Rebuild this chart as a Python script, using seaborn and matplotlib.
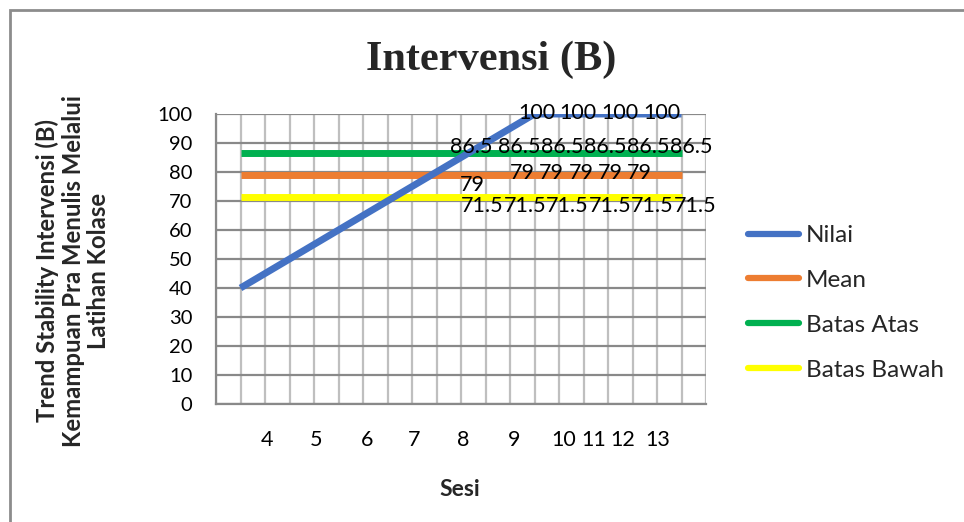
import matplotlib
matplotlib.use("Agg")
import matplotlib.pyplot as plt
from matplotlib.lines import Line2D
import seaborn as sns
import pandas as pd

# ---- data ----
sesi = ["4", "5", "6", "7", "8", "9", "10", "11", "12", "13"]

# Nilai trend: start, point where it reaches the ceiling, end
nilai_idx = [1, 13, 19]
nilai = [40, 100, 100]

# Stability band: mean with upper and lower limits, spanning the same range
band_idx = [1, 19]
mean = [79, 79]
batas_atas = [86.5, 86.5]
batas_bawah = [71.5, 71.5]

# ---- layout ----
sesi_pos = [2.1, 4.1, 6.15, 8.1, 10.1, 12.15, 14.2, 15.4, 16.6, 18.05]
label_x = {
    "Nilai": [13.1, 14.78, 16.49, 18.2],
    "Batas Atas": [10.41, 12.39, 14.14, 15.9, 17.65, 19.41],
    "Mean": [10.45, 12.5, 13.7, 14.9, 16.1, 17.3],
    "Batas Bawah": [10.86, 12.6, 14.34, 16.08, 17.82, 19.56],
}
# vertical offset of each data label (points, positive = up)
label_dy = {
    "Nilai": [0.5, 0.5, 0.5, 0.5],
    "Batas Atas": [4.5] * 6,
    "Mean": [-7.5, 1.5, 1.5, 1.5, 1.5, 1.5],
    "Batas Bawah": [-6.5] * 6,
}

colors = {
    "Nilai": "#4472C4",
    "Mean": "#ED7D31",
    "Batas Atas": "#00B050",
    "Batas Bawah": "#FFFF00",
}

sns.set_theme(style="white")
plt.rcParams["font.family"] = ["Lato", "DejaVu Sans"]

W, H = 964, 522
fig = plt.figure(figsize=(W / 100, H / 100), dpi=100)
ax = fig.add_axes([216 / W, 1 - 404 / H, 490 / W, 290 / H])

df_nilai = pd.DataFrame({"idx": nilai_idx, "value": nilai})
df_band = pd.DataFrame({"idx": band_idx, "Mean": mean,
                        "Batas Atas": batas_atas, "Batas Bawah": batas_bawah})

lw = 5.0
sns.lineplot(data=df_band, x="idx", y="Batas Atas", color=colors["Batas Atas"],
             lw=lw, ax=ax, zorder=3, solid_capstyle="butt")
sns.lineplot(data=df_band, x="idx", y="Mean", color=colors["Mean"],
             lw=lw, ax=ax, zorder=3, solid_capstyle="butt")
sns.lineplot(data=df_band, x="idx", y="Batas Bawah", color=colors["Batas Bawah"],
             lw=lw, ax=ax, zorder=3, solid_capstyle="butt")
sns.lineplot(data=df_nilai, x="idx", y="value", color=colors["Nilai"],
             lw=lw, ax=ax, zorder=4, solid_capstyle="butt")

# grid: light vertical lines on every slot, darker horizontal lines every 10
for k in range(0, 21):
    ax.axvline(k, color="#BFBFBF", lw=1.6, zorder=1)
for v in range(0, 101, 10):
    ax.axhline(v, color="#898989", lw=1.6, zorder=1.5)

ax.set_xlim(0, 20)
ax.set_ylim(0, 100)
ax.set_yticks(range(0, 101, 10))
ax.set_xticks(sesi_pos)
ax.set_xticklabels(sesi)
ax.tick_params(axis="both", length=0, colors="black")
ax.tick_params(axis="x", pad=19, labelsize=15.5)
ax.tick_params(axis="y", pad=17, labelsize=14.5)
for s in ["top", "right"]:
    ax.spines[s].set_visible(False)
for s in ["left", "bottom"]:
    ax.spines[s].set_color("#898989")
    ax.spines[s].set_linewidth(1.6)
    ax.spines[s].set_zorder(2)
ax.set_xlabel("")
ax.set_ylabel("Trend Stability Intervensi (B)\nKemampuan Pra Menulis Melalui\nLatihan Kolase",
              fontsize=17.2, fontweight="bold", linespacing=1.13, va="center")
ax.yaxis.set_label_coords(-0.292, 0.459)

# data labels
series_val = {"Nilai": 100, "Batas Atas": batas_atas[0], "Mean": mean[0],
              "Batas Bawah": batas_bawah[0]}
for name, xs in label_x.items():
    v = series_val[name]
    for x, dy in zip(xs, label_dy[name]):
        txt = f"{v:g}"
        ax.annotate(txt, xy=(x, v), xytext=(0, dy), textcoords="offset points",
                    ha="center", va="center", fontsize=15.5, color="black",
                    zorder=6, annotation_clip=False)

# legend
handles = [Line2D([0], [0], color=colors[n], lw=4.5) for n in
           ["Nilai", "Mean", "Batas Atas", "Batas Bawah"]]
fig.legend(handles, ["Nilai", "Mean", "Batas Atas", "Batas Bawah"],
           loc="upper left", bbox_to_anchor=(748 / W, 1 - 225 / H),
           frameon=False, fontsize=17.5, handlelength=2.1, handletextpad=0.29,
           labelspacing=0.98, borderpad=0, borderaxespad=0)

fig.text(491 / W, 1 - 60 / H, "Intervensi (B)", ha="center", va="center",
         fontsize=30.5, fontweight="bold", family="Liberation Serif")
fig.text(460 / W, 1 - 490 / H, "Sesi", ha="center", va="center",
         fontsize=16.5, fontweight="bold")

# chart frame
frame = plt.Rectangle((10 / W, -0.1), 1.1, 1 - 10 / H + 0.1, transform=fig.transFigure,
                      fill=False, edgecolor="#8C8C8C", lw=2, zorder=0)
fig.patches.append(frame)

fig.savefig("out.png", dpi=100)
